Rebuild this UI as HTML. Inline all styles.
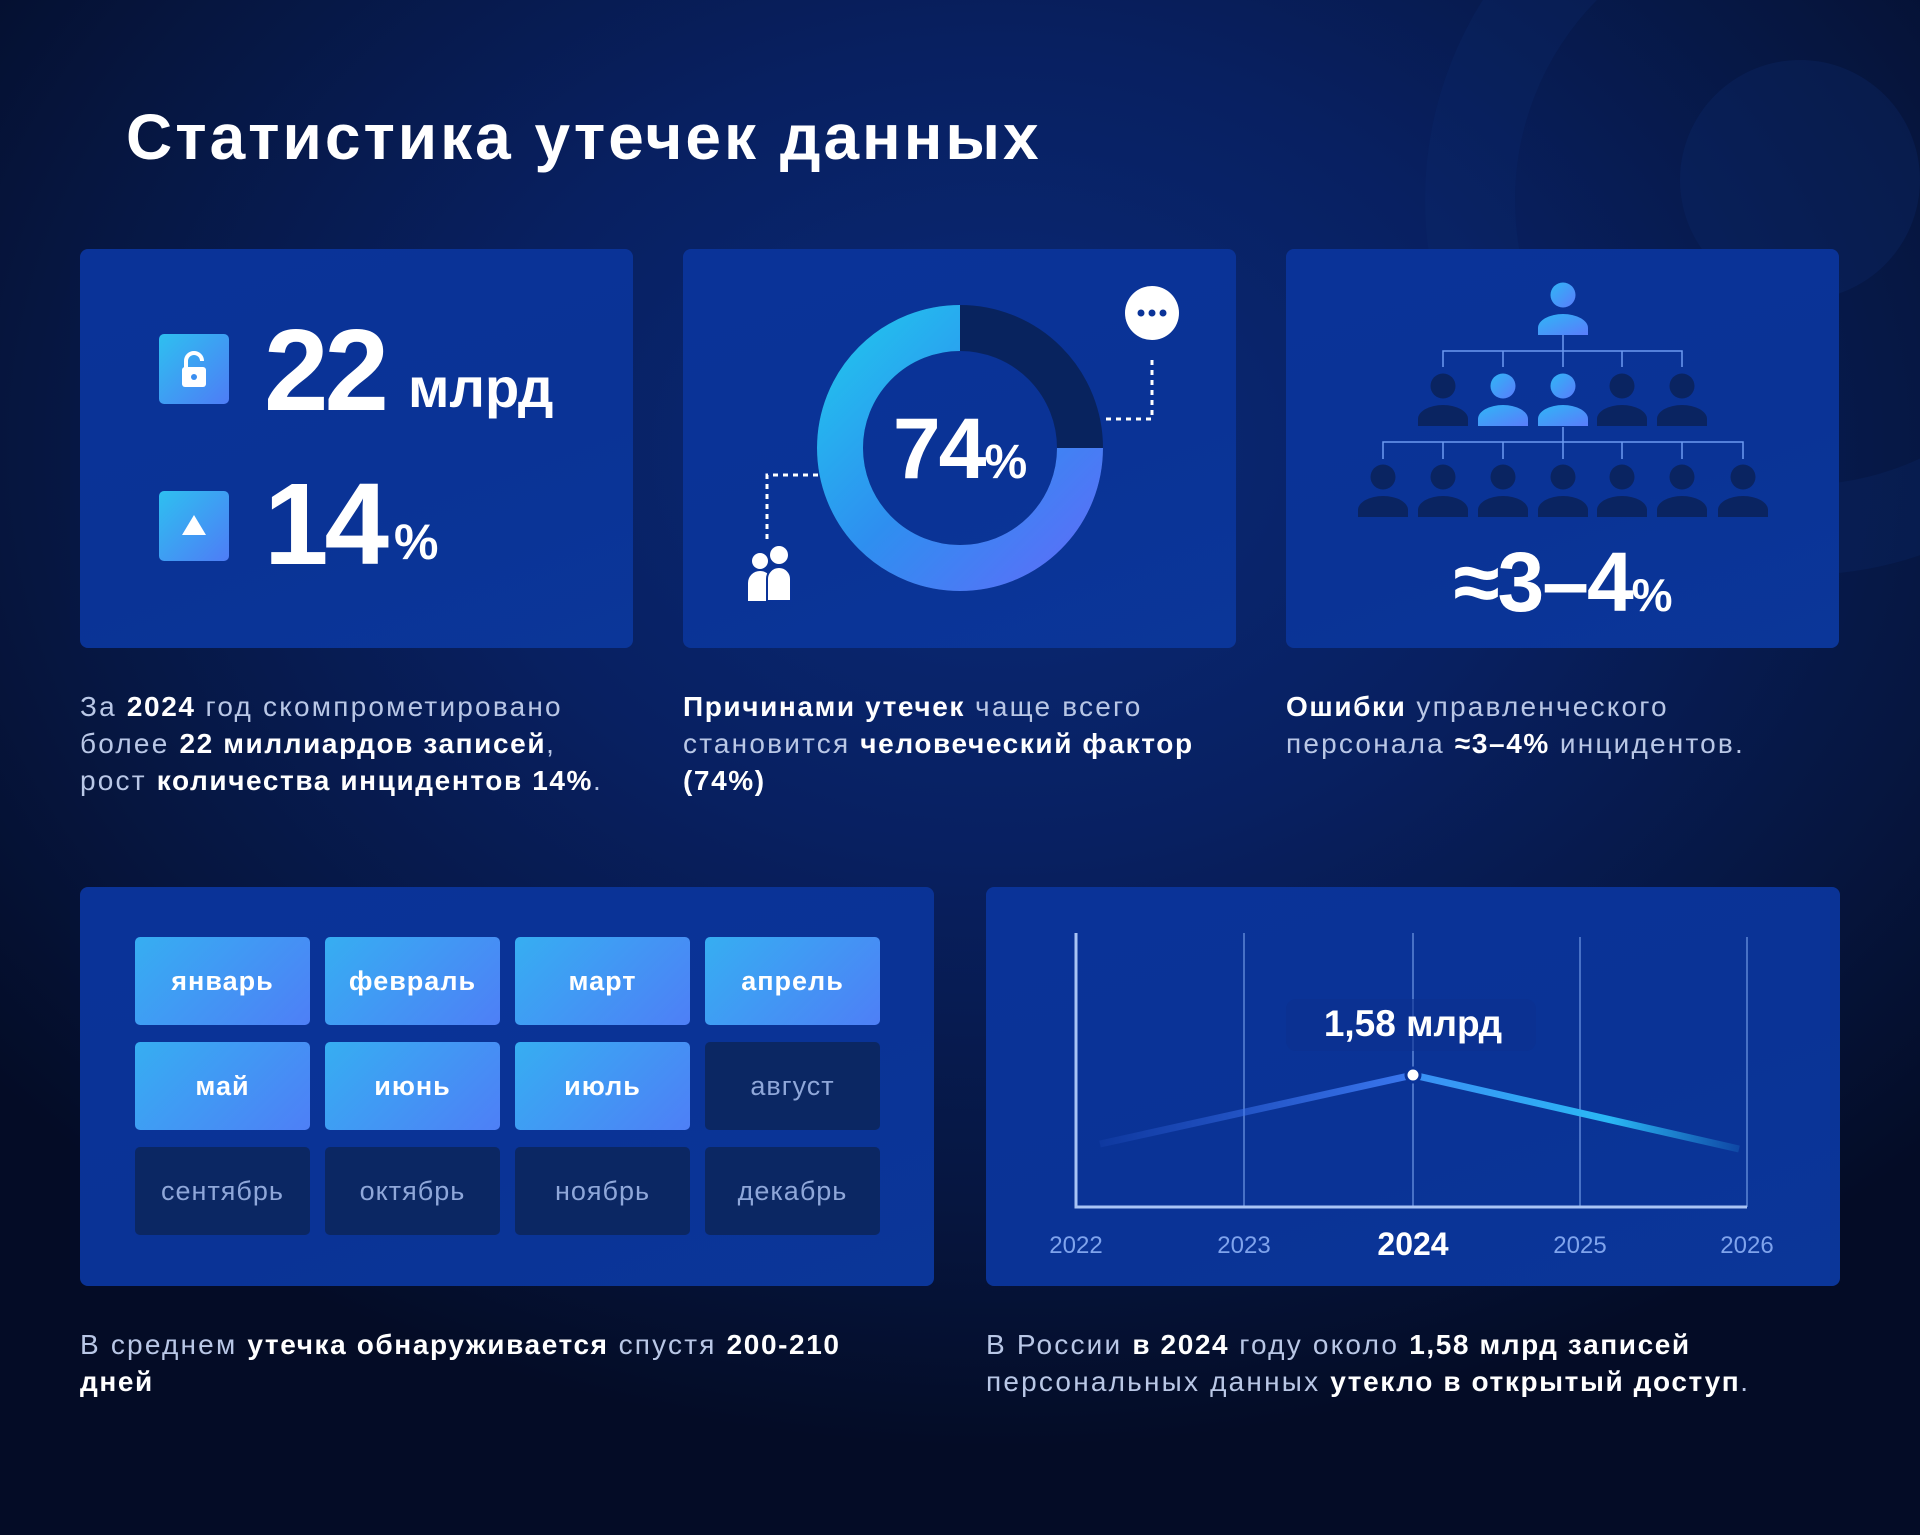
<!DOCTYPE html>
<html><head><meta charset="utf-8"><style>
*{margin:0;padding:0;box-sizing:border-box}
body{width:1920px;height:1535px;overflow:hidden;font-family:"Liberation Sans","DejaVu Sans",sans-serif;
background:radial-gradient(ellipse 1300px 1000px at 1000px 450px,#0a2a78 0%,#082061 40%,#061640 75%,#040c26 100%);position:relative;color:#fff}
.a{position:absolute}
.card{position:absolute;background:linear-gradient(160deg,#0a3398 0%,#0a3396 60%,#0b3699 100%);border-radius:8px}
.t{position:absolute;font-size:28px;line-height:37px;color:#b9c7e6;letter-spacing:2.2px;white-space:nowrap}
.t b{color:#fff;letter-spacing:1.6px}
.m{position:absolute;width:175px;height:88px;border-radius:5px;display:flex;align-items:center;justify-content:center;font-size:27px;letter-spacing:1px}
.on{background:linear-gradient(135deg,#36aef2,#4e7ff6);font-weight:bold;color:#fff}
.off{background:#0b2763;color:#8fa7d9}
</style></head><body>
<svg class="a" style="left:1200px;top:0" width="720" height="800">
<circle cx="600" cy="200" r="330" fill="none" stroke="#0c2a70" stroke-width="90" opacity="0.25"/>
<circle cx="600" cy="180" r="120" fill="#0c2a6e" opacity="0.3"/>
</svg>
<div class="a" style="left:126px;top:100px;font-size:64px;font-weight:bold;letter-spacing:3px">Статистика утечек данных</div>

<div class="card" style="left:80px;top:249px;width:553px;height:399px"></div>
<div class="a" style="left:159px;top:334px;width:70px;height:70px;border-radius:5px;background:linear-gradient(135deg,#2ec0f0,#4e7cf6)"></div>
<svg class="a" style="left:159px;top:334px" width="70" height="70"><path d="M27 34 V27 a8 8 0 0 1 16 0" fill="none" stroke="#fff" stroke-width="4"/><rect x="23" y="33" width="24" height="20" rx="3" fill="#fff"/><circle cx="35" cy="43" r="3" fill="#3a8ef0"/></svg>
<div class="a" style="left:159px;top:491px;width:70px;height:70px;border-radius:5px;background:linear-gradient(135deg,#2ec0f0,#4e7cf6)"></div>
<svg class="a" style="left:159px;top:491px" width="70" height="70"><polygon points="35,24 47,44 23,44" fill="#fff"/></svg>
<div class="a" style="left:264px;top:312px;font-size:116px;font-weight:bold;letter-spacing:-4px;line-height:116px">22</div>
<div class="a" style="left:408px;top:358px;font-size:56px;font-weight:bold;line-height:60px">млрд</div>
<div class="a" style="left:264px;top:466px;font-size:116px;font-weight:bold;letter-spacing:-4px;line-height:116px">14</div>
<div class="a" style="left:394px;top:512px;font-size:50px;font-weight:bold;line-height:60px">%</div>

<div class="card" style="left:683px;top:249px;width:553px;height:399px"></div>
<svg class="a" style="left:683px;top:249px" width="553" height="399">
<defs><linearGradient id="g1" x1="0" y1="0" x2="1" y2="1"><stop offset="0" stop-color="#22c2ee"/><stop offset="0.5" stop-color="#2e8ff0"/><stop offset="1" stop-color="#5a6ff8"/></linearGradient></defs>
<circle cx="277" cy="199" r="120" fill="none" stroke="#08235e" stroke-width="46"/>
<path d="M277 79 A120 120 0 1 0 397 199" fill="none" stroke="url(#g1)" stroke-width="46"/>
<path d="M423 170 H469 V106" fill="none" stroke="#fff" stroke-width="3" stroke-dasharray="5 5"/>
<circle cx="469" cy="64" r="27" fill="#fff"/>
<circle cx="458" cy="64" r="3.5" fill="#0a3398"/><circle cx="469" cy="64" r="3.5" fill="#0a3398"/><circle cx="480" cy="64" r="3.5" fill="#0a3398"/>
<path d="M135 226 H84 V292" fill="none" stroke="#fff" stroke-width="3" stroke-dasharray="5 5"/>
<circle cx="77" cy="312" r="8" fill="#fff"/><path d="M65 352 V334 a12 12 0 0 1 24 0 V352Z" fill="#fff"/>
<circle cx="96" cy="306" r="9" fill="#fff"/><path d="M84 352 V330 a12 12 0 0 1 24 0 V352Z" fill="#fff" stroke="#0a3398" stroke-width="2"/>
<text x="277" y="229" text-anchor="middle" font-family="Liberation Sans" font-weight="bold" fill="#fff"><tspan font-size="86" letter-spacing="-2">74</tspan><tspan font-size="48">%</tspan></text>
</svg>

<div class="card" style="left:1286px;top:249px;width:553px;height:399px"></div>
<svg class="a" style="left:1286px;top:249px" width="553" height="399">
<defs><linearGradient id="g2" x1="0" y1="0" x2="1" y2="1"><stop offset="0" stop-color="#2fb6f6"/><stop offset="1" stop-color="#5a7cfb"/></linearGradient></defs>
<g stroke="#6c9af0" stroke-width="1.5" fill="none">
<path d="M277 86 V102 M157 118 V102 H396 V118 M217 102 V118 M277 102 V118 M336 102 V118"/>
<path d="M277 178 V193 M97 210 V193 H457 V210 M157 193 V210 M217 193 V210 M336 193 V210 M396 193 V210 M277 193 V210"/>
</g>
<g><circle cx="277" cy="46" r="12.5" fill="url(#g2)"/><path d="M252 86 V79 a25 14 0 0 1 50 0 V86Z" fill="url(#g2)"/></g>
<g fill="#0a2461">
<circle cx="157" cy="137" r="12.5"/><path d="M132 177 V170 a25 14 0 0 1 50 0 V177Z"/>
<circle cx="336" cy="137" r="12.5"/><path d="M311 177 V170 a25 14 0 0 1 50 0 V177Z"/>
<circle cx="396" cy="137" r="12.5"/><path d="M371 177 V170 a25 14 0 0 1 50 0 V177Z"/>
</g>
<g fill="url(#g2)">
<circle cx="217" cy="137" r="12.5"/><path d="M192 177 V170 a25 14 0 0 1 50 0 V177Z"/>
<circle cx="277" cy="137" r="12.5"/><path d="M252 177 V170 a25 14 0 0 1 50 0 V177Z"/>
</g>
<g fill="#0a2461">
<circle cx="97" cy="228" r="12.5"/><path d="M72 268 V261 a25 14 0 0 1 50 0 V268Z"/>
<circle cx="157" cy="228" r="12.5"/><path d="M132 268 V261 a25 14 0 0 1 50 0 V268Z"/>
<circle cx="217" cy="228" r="12.5"/><path d="M192 268 V261 a25 14 0 0 1 50 0 V268Z"/>
<circle cx="277" cy="228" r="12.5"/><path d="M252 268 V261 a25 14 0 0 1 50 0 V268Z"/>
<circle cx="336" cy="228" r="12.5"/><path d="M311 268 V261 a25 14 0 0 1 50 0 V268Z"/>
<circle cx="396" cy="228" r="12.5"/><path d="M371 268 V261 a25 14 0 0 1 50 0 V268Z"/>
<circle cx="457" cy="228" r="12.5"/><path d="M432 268 V261 a25 14 0 0 1 50 0 V268Z"/>
</g>
<text x="277" y="362" text-anchor="middle" font-family="Liberation Sans" font-weight="bold" fill="#fff"><tspan font-size="84" letter-spacing="-2">≈3–4</tspan><tspan font-size="46">%</tspan></text>
</svg>

<div class="t" style="left:80px;top:688px">За <b>2024</b> год скомпрометировано<br>более <b>22 миллиардов записей</b>,<br>рост <b>количества инцидентов 14%</b>.</div>
<div class="t" style="left:683px;top:688px"><b>Причинами утечек</b> чаще всего<br>становится <b>человеческий фактор</b><br><b>(74%)</b></div>
<div class="t" style="left:1286px;top:688px"><b>Ошибки</b> управленческого<br>персонала <b>≈3–4%</b> инцидентов.</div>

<div class="card" style="left:80px;top:887px;width:854px;height:399px"></div>
<div class="m on" style="left:135px;top:937px">январь</div>
<div class="m on" style="left:325px;top:937px">февраль</div>
<div class="m on" style="left:515px;top:937px">март</div>
<div class="m on" style="left:705px;top:937px">апрель</div>
<div class="m on" style="left:135px;top:1042px">май</div>
<div class="m on" style="left:325px;top:1042px">июнь</div>
<div class="m on" style="left:515px;top:1042px">июль</div>
<div class="m off" style="left:705px;top:1042px">август</div>
<div class="m off" style="left:135px;top:1147px">сентябрь</div>
<div class="m off" style="left:325px;top:1147px">октябрь</div>
<div class="m off" style="left:515px;top:1147px">ноябрь</div>
<div class="m off" style="left:705px;top:1147px">декабрь</div>

<div class="card" style="left:986px;top:887px;width:854px;height:399px"></div>
<svg class="a" style="left:986px;top:887px" width="854" height="399">
<defs>
<linearGradient id="l1" x1="0" x2="1"><stop offset="0" stop-color="#3a6ef0" stop-opacity="0.1"/><stop offset="1" stop-color="#3a78f0"/></linearGradient>
<linearGradient id="l2" x1="0" x2="1"><stop offset="0" stop-color="#3a90f5"/><stop offset="0.6" stop-color="#2ab8f5"/><stop offset="1" stop-color="#2ab8f5" stop-opacity="0.15"/></linearGradient>
</defs>
<g stroke="#5d86d6" stroke-width="1.5"><path d="M258 46 V320 M427 46 V320 M594 50 V320 M761 50 V320"/></g>
<path d="M90 46 V320 H761" fill="none" stroke="#a9c4f5" stroke-width="3"/>
<path d="M114 257 L427 188" stroke="url(#l1)" stroke-width="7" fill="none"/>
<path d="M427 188 L753 262" stroke="url(#l2)" stroke-width="7" fill="none"/>
<circle cx="427" cy="188" r="7" fill="#fff" stroke="#0a3398" stroke-width="3"/>
<rect x="300" y="112" width="250" height="52" rx="10" fill="#0b3190" opacity="0.6"/>
<text x="427" y="149" text-anchor="middle" font-family="Liberation Sans" font-weight="bold" font-size="37" fill="#fff">1,58 млрд</text>
<g font-family="Liberation Sans" font-size="24" fill="#7fa3ec" text-anchor="middle">
<text x="90" y="366">2022</text><text x="258" y="366">2023</text>
<text x="427" y="368" font-size="32" font-weight="bold" fill="#fff">2024</text>
<text x="594" y="366">2025</text><text x="761" y="366">2026</text></g>
</svg>

<div class="t" style="left:80px;top:1326px">В среднем <b>утечка обнаруживается</b> спустя <b>200-210</b><br><b>дней</b></div>
<div class="t" style="left:986px;top:1326px">В России <b>в 2024</b> году около <b>1,58 млрд записей</b><br>персональных данных <b>утекло в открытый доступ</b>.</div>
</body></html>
